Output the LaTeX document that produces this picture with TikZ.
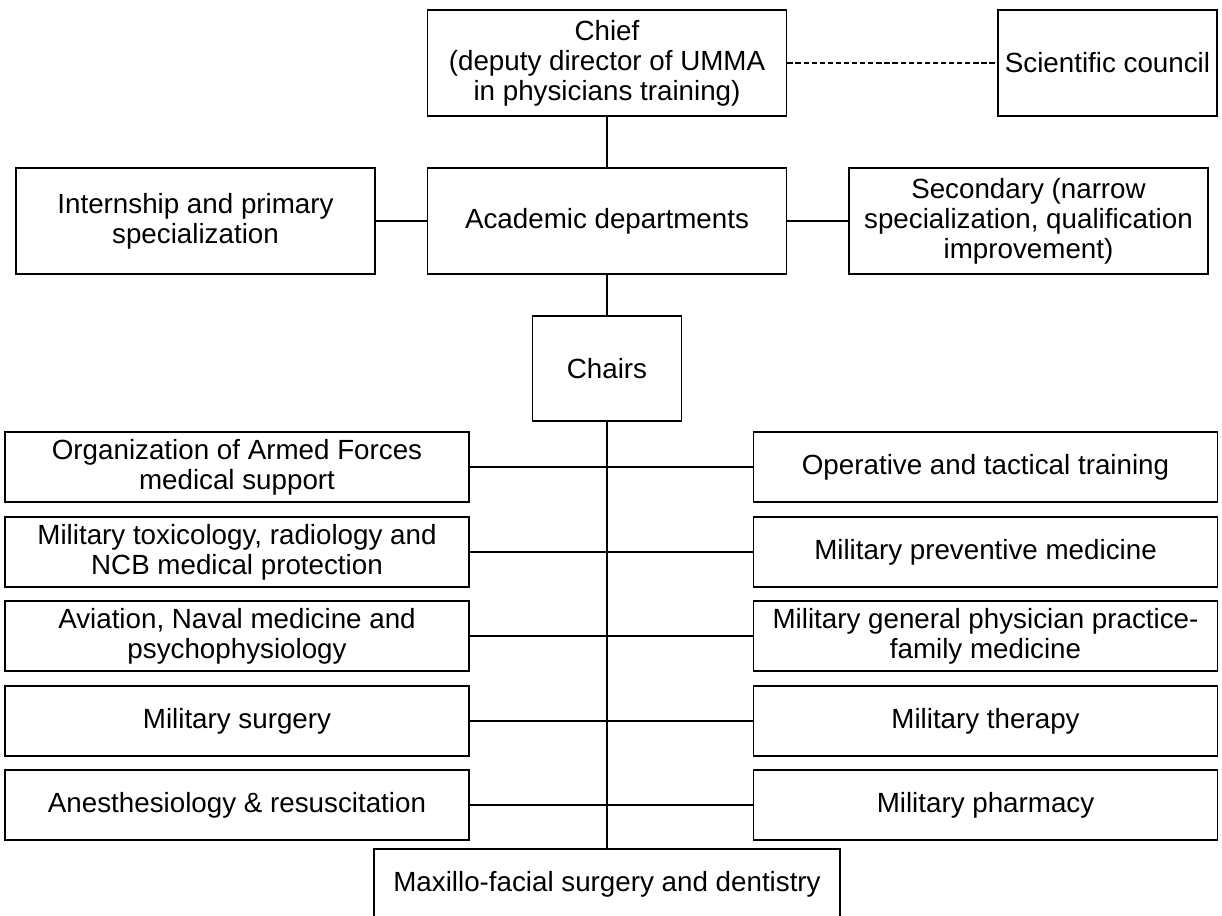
\documentclass[tikz,border=0pt]{standalone}
\usepackage{fontspec}
\setmainfont{Liberation Sans}
\usetikzlibrary{positioning}

\begin{document}
\begin{tikzpicture}[x=0.02cm, y=-0.02cm, line width=1pt]
        \tikzset{
            unit/.style={draw, rectangle, align=center, inner sep=0pt,
                font=\fontsize{15.8}{17}\selectfont},
            head/.style={unit, minimum width=7.18cm, minimum height=2.12cm},
            chair/.style={unit, minimum width=9.28cm, minimum height=1.4cm},
        }
        \useasboundingbox (0,0) rectangle (1222,915);

        \node[head] (chief) at (607,63) {Chief\\(deputy director of UMMA\\in physicians training)};
        \node[unit, minimum width=4.38cm, minimum height=2.12cm] (council) at (1107.5,63) {Scientific council};
        \node[head] (academic) at (607,221) {Academic departments};
        \node[head] (internship) at (195.5,221) {Internship and primary\\specialization};
        \node[head] (secondary) at (1028.5,221) {Secondary (narrow\\specialization, qualification\\improvement)};
        \node[unit, minimum width=2.98cm, minimum height=2.1cm] (chairs) at (607,368.5) {Chairs};

        % left column
        \node[chair] (organization) at (237,467) {Organization of Armed Forces\\medical support};
        \node[chair] (toxicology) at (237,552) {Military toxicology, radiology and\\NCB medical protection};
        \node[chair] (aviation) at (237,636) {Aviation, Naval medicine and\\psychophysiology};
        \node[chair] (surgery) at (237,721) {Military surgery};
        \node[chair] (anesthesiology) at (237,805) {Anesthesiology \& resuscitation};

        % right column
        \node[chair] (operative) at (985.5,467) {Operative and tactical training};
        \node[chair] (preventive) at (985.5,552) {Military preventive medicine};
        \node[chair] (general) at (985.5,636) {Military general physician practice-\\family medicine};
        \node[chair] (therapy) at (985.5,721) {Military therapy};
        \node[chair] (pharmacy) at (985.5,805) {Military pharmacy};

        \node[chair, minimum width=9.32cm] (maxillo) at (607,884) {Maxillo-facial surgery and dentistry};

        \draw[dash pattern=on 3pt off 1.6pt] (chief) -- (council);
        \draw (chief) -- (academic);
        \draw (internship) -- (academic);
        \draw (academic) -- (secondary);
        \draw (academic) -- (chairs);
        \draw (chairs) -- (maxillo);
        \draw (organization) -- (operative);
        \draw (toxicology) -- (preventive);
        \draw (aviation) -- (general);
        \draw (surgery) -- (therapy);
        \draw (anesthesiology) -- (pharmacy);
    \end{tikzpicture}
\end{document}
